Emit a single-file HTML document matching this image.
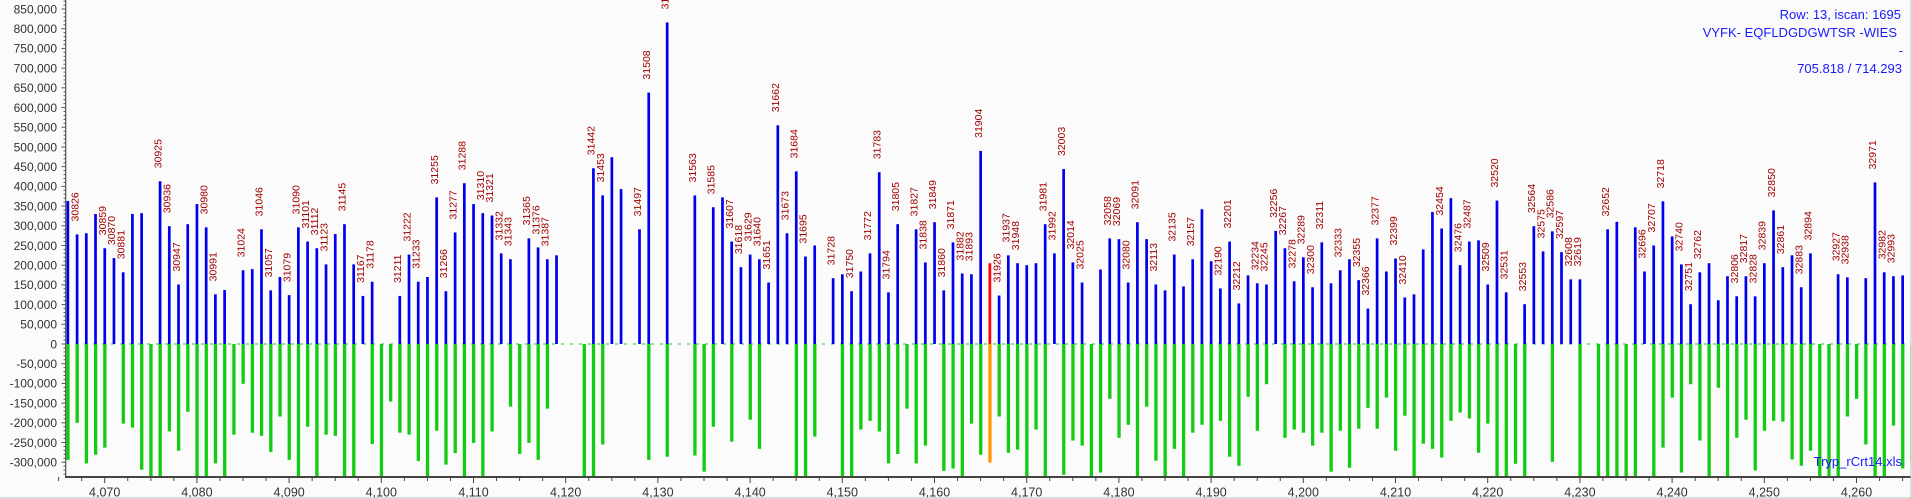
<!DOCTYPE html>
<html><head><meta charset="utf-8"><style>
html,body{margin:0;padding:0;background:#fbfbfb;}
svg{display:block;font-family:"Liberation Sans",sans-serif;}
</style></head><body>
<svg id="chart" width="1912" height="499" viewBox="0 0 1912 499" xmlns="http://www.w3.org/2000/svg">
<rect x="0" y="0" width="1912" height="499" fill="#fbfbfb"/>
<defs><clipPath id="plotclip"><rect x="66" y="0" width="1845" height="477"/></clipPath></defs>
<g id="yaxis"></g>
<g id="xaxis"></g>
<g id="plot" clip-path="url(#plotclip)"></g>
<line x1="65.7" y1="0" x2="65.7" y2="477" stroke="#555" stroke-width="1.2"/>
<line x1="65" y1="477" x2="1911" y2="477" stroke="#444" stroke-width="2"/>
<line x1="1911" y1="0" x2="1911" y2="499" stroke="#bbb" stroke-width="1"/>
<line x1="0" y1="498" x2="1912" y2="498" stroke="#bbb" stroke-width="1"/>
<g fill="#1a1aff" font-size="13" text-anchor="end">
<text x="1901" y="19">Row: 13, iscan: 1695</text>
<text x="1897" y="37">VYFK- EQFLDGDGWTSR -WIES</text>
<text x="1903" y="55">-</text>
<text x="1902" y="73">705.818 / 714.293</text>
<text x="1902" y="466">Tryp_rCrt14.xls</text>
</g>
</svg>
<script>
const mzStart = 4066;
const blueVals = [363,278,281,330,243,218,182,330,332,0,413,299,151,304,355,296,126,137,0,187,190,291,136,170,124,296,260,243,202,279,304,202,122,158,0,0,122,227,158,170,372,134,283,408,355,332,326,230,215,0,268,245,215,225,0,0,0,446,377,474,393,0,291,638,0,816,0,0,377,0,347,372,260,195,227,215,156,555,281,438,222,250,0,167,177,134,184,230,436,131,304,0,291,207,309,136,258,179,177,490,205,123,225,205,200,205,304,230,444,207,156,0,189,268,266,156,309,266,151,136,227,146,215,342,210,141,260,103,174,154,151,287,243,159,220,144,258,154,187,215,162,90,268,184,217,118,126,240,335,293,370,200,260,263,151,364,131,0,101,299,235,286,233,164,164,0,0,291,310,0,296,184,250,362,273,202,101,182,205,111,172,121,172,121,205,339,195,225,144,230,0,0,177,169,0,167,410,182,172,174,0];
const greenVals = [-294,-200,-303,-281,-263,0,-202,-212,-319,-340,-340,-222,-271,-172,-340,-340,-303,-340,-230,-101,-225,-233,-274,-184,-294,-340,-210,-340,-230,-233,-340,-340,0,-254,-340,-146,-225,-230,-297,-340,-220,-306,-277,-340,-251,-340,-222,0,-159,-279,-251,-294,-164,0,0,0,-340,-340,-255,0,0,0,0,-294,0,-286,0,0,-283,-324,-210,0,-248,0,-192,-266,0,0,0,-340,-340,-235,0,0,-340,-340,-217,-195,-222,-303,-279,-164,-303,-258,0,-322,-316,-340,-202,-281,-301,-184,-276,-268,-340,-217,-340,0,-332,-245,-258,-340,-326,-139,-238,-205,-340,-159,-296,-340,-266,-340,-225,-205,-340,-195,-286,-309,-134,-220,-102,0,-238,-217,-225,-258,-225,-324,-220,-314,-215,-162,-215,-136,-271,-182,-340,-253,-266,-288,-195,-174,-189,-276,-202,-340,-340,-304,-340,0,0,-299,0,0,-340,0,-340,-340,-340,-340,-340,0,-340,-263,-136,-326,-102,-245,-340,-111,-340,-238,-192,-321,-220,-195,-197,-293,-309,-271,-340,-340,-340,-184,-139,-255,-340,-340,-207,-316,-299];
const labelMz = [4067,4070,4071,4072,4076,4077,4078,4081,4082,4085,4087,4088,4090,4091,4092,4093,4094,4096,4098,4099,4102,4103,4104,4106,4107,4108,4109,4111,4112,4113,4114,4116,4117,4118,4123,4124,4128,4129,4131,4134,4136,4138,4139,4140,4141,4142,4143,4144,4145,4146,4149,4151,4153,4154,4155,4156,4158,4159,4160,4161,4162,4163,4164,4165,4167,4168,4169,4172,4173,4174,4175,4176,4179,4180,4181,4182,4184,4186,4188,4191,4192,4193,4195,4196,4197,4198,4199,4200,4201,4202,4204,4206,4207,4208,4210,4211,4215,4217,4218,4220,4221,4222,4224,4225,4226,4227,4228,4229,4230,4233,4237,4238,4239,4241,4242,4243,4247,4248,4249,4250,4251,4252,4254,4255,4258,4259,4262,4263,4264];
const labelText = ["30826","30859","30870","30881","30925","30936","30947","30980","30991","31024","31046","31057","31079","31090","31101","31112","31123","31145","31167","31178","31211","31222","31233","31255","31266","31277","31288","31310","31321","31332","31343","31365","31376","31387","31442","31453","31497","31508","31530","31563","31585","31607","31618","31629","31640","31651","31662","31673","31684","31695","31728","31750","31772","31783","31794","31805","31827","31838","31849","31860","31871","31882","31893","31904","31926","31937","31948","31981","31992","32003","32014","32025","32058","32069","32080","32091","32113","32135","32157","32190","32201","32212","32234","32245","32256","32267","32278","32289","32300","32311","32333","32355","32366","32377","32399","32410","32454","32476","32487","32509","32520","32531","32553","32564","32575","32586","32597","32608","32619","32652","32696","32707","32718","32740","32751","32762","32806","32817","32828","32839","32850","32861","32883","32894","32927","32938","32971","32982","32993"];
const highlightMz = 4166;
const yTicks = [850,800,750,700,650,600,550,500,450,400,350,300,250,200,150,100,50,0,-50,-100,-150,-200,-250,-300];
const xTicks = [4070,4080,4090,4100,4110,4120,4130,4140,4150,4160,4170,4180,4190,4200,4210,4220,4230,4240,4250,4260];

const NS = "http://www.w3.org/2000/svg";
function X(m){ return 104.7 + (m - 4070) * 9.22; }
function Y(v){ return 344 - v * 0.3941; }
function mk(tag, attrs, parent){ const e = document.createElementNS(NS, tag); for (const k in attrs) e.setAttribute(k, attrs[k]); parent.appendChild(e); return e; }
const plot = document.getElementById('plot');
const yax = document.getElementById('yaxis');
const xax = document.getElementById('xaxis');

for (let v = -330; v <= 870; v += 10) {
  const major = v % 50 === 0;
  const t = mk('line', {x1: major ? 61.5 : 63.5, x2: 65.7, y1: Y(v), y2: Y(v), stroke: '#555', 'stroke-width': 1}, yax);
  
  
}
yTicks.forEach(v => {
  const t = mk('text', {x: 57, y: Y(v) + 4.3, 'text-anchor': 'end', 'font-size': 12, fill: '#333'}, yax);
  t.textContent = (v < 0 ? '-' : '') + (Math.abs(v) === 0 ? '0' : Math.abs(v).toLocaleString('en-US') + ',000');
  
  
});
for (let m = 4065; m <= 4267.5; m += 2.5) {
  const major = m % 10 === 0;
  const t = mk('line', {x1: X(m), x2: X(m), y1: 477, y2: major ? 483 : 481, stroke: '#444', 'stroke-width': 1}, xax);
  
  
}
xTicks.forEach(m => {
  const t = mk('text', {x: X(m), y: 496.5, 'text-anchor': 'middle', 'font-size': 12.5, fill: '#333'}, xax);
  t.textContent = m.toLocaleString('en-US');
  
  
});

const base = mk('line', {x1: 66, x2: 1911, y1: Y(0), y2: Y(0), stroke: '#2c2', 'stroke-width': 1, 'stroke-dasharray': '3,6'}, plot);



greenVals.forEach((v, i) => {
  const m = mzStart + i;
  if (v === 0) return;
  const r = mk('rect', {x: X(m) - 1.5, y: Y(0), width: 3.3, height: Y(v) - Y(0), fill: m === highlightMz ? '#ff9900' : '#11cc11'}, plot);
  
  
});
blueVals.forEach((v, i) => {
  const m = mzStart + i;
  if (v === 0) return;
  const r = mk('rect', {x: X(m) - 1.3, y: Y(v), width: 2.7, height: Y(0) - Y(v), fill: m === highlightMz ? '#ff0000' : '#0000ee'}, plot);
  
  
});
labelMz.forEach((m, i) => {
  const v = blueVals[m - mzStart];
  const x = X(m) + 1.3, y = Y(v) - 13;
  const t = mk('text', {x: x, y: y, transform: 'rotate(-90 ' + x + ' ' + y + ')', 'font-size': 10.5, fill: '#a00000'}, plot);
  t.textContent = labelText[i];
  
  
});
</script>
</body></html>
